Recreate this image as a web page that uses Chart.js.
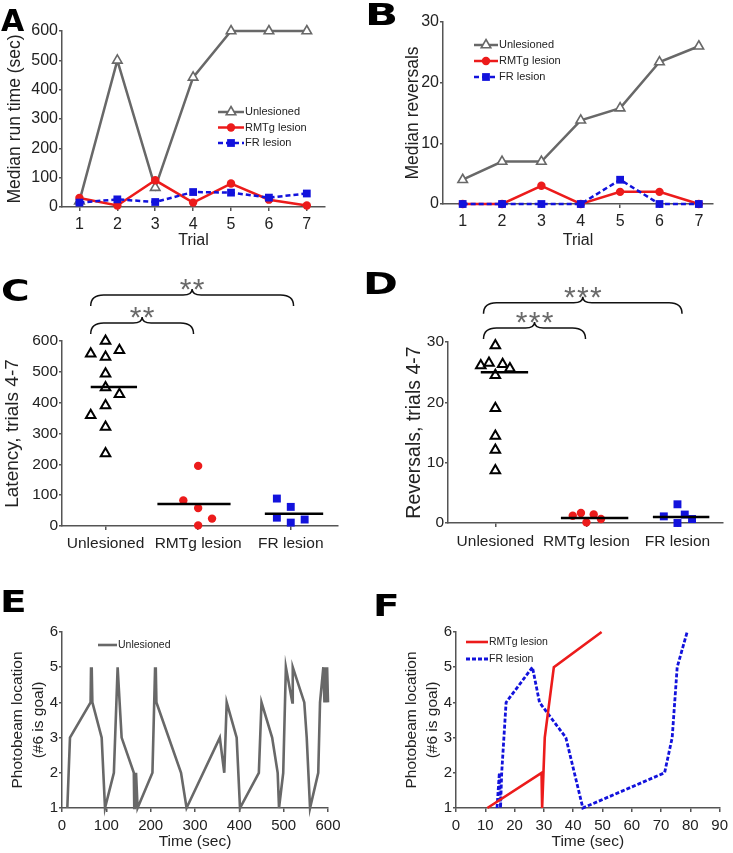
<!DOCTYPE html>
<html>
<head>
<meta charset="utf-8">
<script src="https://cdn.jsdelivr.net/npm/chart.js@4.4.1/dist/chart.umd.min.js"></script>
<style>
  body { margin: 0; background: #fff; }
  #page { position: relative; width: 733px; height: 853px; overflow: hidden; }
  canvas { position: absolute; }
  .tag { position: absolute; font: bold 30px "DejaVu Sans", sans-serif; line-height: 30px; transform-origin: 0 0; color: #000; }
</style>
</head>
<body>
<div id="page">
  <canvas id="chartA" width="366" height="250" style="left:0;top:0"></canvas>
  <canvas id="chartB" width="367" height="250" style="left:366px;top:0"></canvas>
  <canvas id="chartC" width="366" height="300" style="left:0;top:255px"></canvas>
  <canvas id="chartD" width="367" height="300" style="left:366px;top:255px"></canvas>
  <canvas id="chartE" width="366" height="263" style="left:0;top:590px"></canvas>
  <canvas id="chartF" width="367" height="263" style="left:366px;top:590px"></canvas>
  <div class="tag" style="left:1px;top:6px">A</div>
  <div class="tag" style="left:365px;top:0px;transform:scaleX(1.45)">B</div>
  <div class="tag" style="left:1px;top:276px;transform:scaleX(1.3)">C</div>
  <div class="tag" style="left:363px;top:269px;transform:scaleX(1.4)">D</div>
  <div class="tag" style="left:0px;top:587px;transform:scaleX(1.3)">E</div>
  <div class="tag" style="left:373px;top:591px;transform:scaleX(1.3)">F</div>
</div>
<script>
// ---- A / B: medians per trial ----
const trials = [1, 2, 3, 4, 5, 6, 7];
const runTicks = [0, 100, 200, 300, 400, 500, 600];
const runUnlesioned = [20, 500, 66, 442, 600, 600, 600];
const runRMTg = [31, 5, 91, 15, 80, 25, 5];
const runFR = [15, 26, 17, 51, 49, 32, 46];

const revTicks = [0, 10, 20, 30];
const revUnlesioned = [4, 7, 7, 13.8, 15.8, 23.4, 26];
const revRMTg = [0, 0, 3, 0, 2, 2, 0];
const revFR = [0, 0, 0, 0, 4, 0, 0];

// ---- C / D: individual animals, trials 4-7 ----
const groups = ['Unlesioned', 'RMTg lesion', 'FR lesion'];
const latUnlesioned = [600, 559, 570, 548, 494, 449, 427, 391, 359, 321, 235];
const latUnlesionedOff = [0, -0.16, 0.15, 0, 0, 0, 0.15, 0, -0.16, 0, 0];
const latRMTg = [195, 83, 58, 24, 2];
const latRMTgOff = [0, -0.16, 0, 0.15, 0];
const latFR = [89, 62, 27, 21, 11];
const latFROff = [-0.15, 0, -0.15, 0.15, 0];
const latMedians = [451, 71, 40];
const latMedianSpan = [[-0.16, 0.34], [-0.44, 0.35], [-0.28, 0.35]];

const totUnlesioned = [29.4, 26.1, 26.5, 26.3, 25.6, 24.5, 19, 14.4, 12.1, 8.7];
const totUnlesionedOff = [0, -0.16, -0.07, 0.08, 0.16, 0, 0, 0, 0, 0];
const totRMTg = [1.2, 1.65, 0.1, 1.4, 0.66];
const totRMTgOff = [-0.15, -0.06, 0, 0.08, 0.16];
const totFR = [1.1, 3.1, 1.4, 0.0, 0.66];
const totFROff = [-0.15, 0, 0.08, 0, 0.16];
const totMedians = [25, 0.83, 1.0];
const totMedianSpan = [[-0.16, 0.36], [-0.28, 0.46], [-0.27, 0.35]];

// ---- E / F: example traces ----
const locTicks = [1, 2, 3, 4, 5, 6];
const eTimeTicks = [0, 100, 200, 300, 400, 500, 600];
const eTime = [12, 18, 64.5, 65.5, 66.5, 67.5, 68.5, 89.5, 97, 117, 125.5, 134.5, 162, 163, 164, 166, 167, 170.5,
  204, 210, 211, 212, 213, 268.5, 281, 356, 366, 371.5, 394, 401.5, 444, 450, 474, 486.5, 489.5,
  499, 505, 519.5, 520.5, 546.5, 552, 559.5, 578, 582, 589.5, 592, 594, 596, 598, 600];
const eLoc = [1, 3, 4, 5, 4, 5, 4, 3, 1, 2, 5, 3, 2, 1, 2, 1, 2, 1,
  2, 5, 4, 5, 4, 2, 1, 3, 2, 4, 3, 1, 2, 4, 3, 2, 1,
  2, 5, 4, 5, 4, 3, 1, 2, 4, 5, 4, 5, 4, 5, 4];
const fTimeTicks = [0, 10, 20, 30, 40, 50, 60, 70, 80, 90];
const fRMTgTime = [10.7, 29.2, 29.4, 30.3, 33.4, 49.7];
const fRMTgLoc = [1, 2, 1, 3, 5, 6];
const fFRTime = [14, 14.8, 15.2, 15.6, 17.1, 26.1, 28.5, 37.5, 43.3, 71.2, 73.8, 75.5, 78.9];
const fFRLoc = [1, 2, 1, 2, 4, 5, 4, 3, 1, 2, 3, 5, 6];

const GRAY = '#686868';
const RED = '#ec1b1b';
const BLUE = '#1212dc';
const AXIS = '#555555';
const INK = '#222222';
const FONT = '"Liberation Sans", Arial, sans-serif';

function drawMarker(ctx, ds, x, y) {
  const r = ds.pointRadius;
  ctx.fillStyle = ds.pointBackgroundColor;
  ctx.strokeStyle = ds.pointBorderColor;
  ctx.lineWidth = ds.pointBorderWidth;
  ctx.beginPath();
  if (ds.pointStyle === 'triangle') {
    ctx.moveTo(x, y - r);
    ctx.lineTo(x + r * 0.866, y + r / 2);
    ctx.lineTo(x - r * 0.866, y + r / 2);
    ctx.closePath();
  } else if (ds.pointStyle === 'rect') {
    const s = r * Math.SQRT1_2;
    ctx.rect(x - s, y - s, 2 * s, 2 * s);
  } else {
    ctx.arc(x, y, r, 0, Math.PI * 2);
  }
  ctx.fill();
  if (ds.pointBorderWidth) ctx.stroke();
}

// legend: short line sample (with marker in the middle) then the label
const lineLegend = {
  id: 'lineLegend',
  afterDraw(chart, args, o) {
    if (!o.items) return;
    const ctx = chart.ctx;
    ctx.save();
    o.items.forEach((idx, i) => {
      const ds = chart.data.datasets[idx];
      const y = o.y + i * o.row;
      ctx.strokeStyle = ds.borderColor;
      ctx.lineWidth = ds.borderWidth;
      ctx.setLineDash(ds.borderDash || []);
      ctx.beginPath();
      ctx.moveTo(o.x, y);
      ctx.lineTo(o.x + o.len, y);
      ctx.stroke();
      ctx.setLineDash([]);
      if (ds.pointRadius) drawMarker(ctx, ds, o.x + o.len / 2, y);
      ctx.fillStyle = INK;
      ctx.font = o.size + 'px ' + FONT;
      ctx.textBaseline = 'middle';
      ctx.fillText(ds.label, o.x + o.len + 1, y);
    });
    ctx.restore();
  }
};

// curly significance brackets with stars above the tip
const braces = {
  id: 'braces',
  afterDraw(chart, args, o) {
    if (!o.items) return;
    const {ctx, scales: {x, y}} = chart;
    ctx.save();
    o.items.forEach(b => {
      const x1 = x.getPixelForValue(b.from), x2 = x.getPixelForValue(b.to);
      const yy = y.getPixelForValue(b.at), xm = (x1 + x2) / 2;
      ctx.strokeStyle = '#111';
      ctx.lineWidth = 1.5;
      ctx.beginPath();
      ctx.moveTo(x1, yy + 11);
      ctx.quadraticCurveTo(x1, yy, x1 + 13, yy);
      ctx.lineTo(xm - 9, yy);
      ctx.quadraticCurveTo(xm, yy, xm, yy - 6);
      ctx.quadraticCurveTo(xm, yy, xm + 9, yy);
      ctx.lineTo(x2 - 13, yy);
      ctx.quadraticCurveTo(x2, yy, x2, yy + 11);
      ctx.stroke();
      ctx.fillStyle = '#6a6a6a';
      ctx.font = '30px ' + FONT;
      ctx.textAlign = 'center';
      ctx.textBaseline = 'alphabetic';
      const n = b.stars.length;
      for (let i = 0; i < n; i++) {
        ctx.fillText(b.stars[i], xm + (i - (n - 1) / 2) * 13, yy - 13 + 17);
      }
    });
    ctx.restore();
  }
};

Chart.register(lineLegend, braces);

function scale(o) {
  const s = {
    type: 'linear',
    min: o.min,
    max: o.max,
    afterBuildTicks: sc => { sc.ticks = o.ticks.map(v => ({value: v})); },
    afterFit: sc => { if (sc.isHorizontal()) sc.height = o.box; else sc.width = o.box; },
    grid: {display: true, drawOnChartArea: false, drawTicks: true, tickLength: o.tickLen || 4, color: AXIS, lineWidth: 1.5},
    border: {display: true, color: AXIS, width: 1.5},
    ticks: {color: INK, font: {family: FONT, size: o.size}, padding: o.tickPad, autoSkip: false, maxRotation: 0},
    title: {display: false}
  };
  if (o.labels) s.ticks.callback = v => o.labels[v - 1];
  if (o.title) {
    s.title = {display: true, text: o.title, color: INK,
      font: {family: FONT, size: o.titleSize, lineHeight: o.lineHeight || 1.2},
      padding: {top: o.titlePad || 0, bottom: o.titlePad || 0}};
  }
  return s;
}

function options(o) {
  return {
    responsive: false,
    animation: false,
    events: [],
    layout: {padding: o.pad},
    plugins: {
      legend: {display: false},
      tooltip: {enabled: false},
      lineLegend: o.legend || {},
      braces: o.braces || {}
    },
    scales: {x: scale(o.x), y: scale(o.y)}
  };
}

const trendStyle = {
  unl: {borderColor: GRAY, borderWidth: 2.5, pointStyle: 'triangle', pointRadius: 5.5, pointBackgroundColor: '#fff', pointBorderColor: GRAY, pointBorderWidth: 1.6, order: 3},
  rmtg: {borderColor: RED, borderWidth: 2.5, pointStyle: 'circle', pointRadius: 4.2, pointBackgroundColor: RED, pointBorderColor: RED, pointBorderWidth: 0, order: 2},
  fr: {borderColor: BLUE, borderWidth: 2.5, borderDash: [5, 3], pointStyle: 'rect', pointRadius: 5.5, pointBackgroundColor: BLUE, pointBorderColor: BLUE, pointBorderWidth: 0, order: 1}
};

function series(label, xs, ys, st) {
  return Object.assign({label, showLine: true, clip: false, data: xs.map((x, i) => ({x, y: ys[i]}))}, st);
}

const dotStyle = {
  unl: {pointStyle: 'triangle', pointRadius: 5.5, pointBackgroundColor: '#fff', pointBorderColor: '#000', pointBorderWidth: 2},
  rmtg: {pointStyle: 'circle', pointRadius: 4.2, pointBackgroundColor: RED, pointBorderColor: RED, pointBorderWidth: 0},
  fr: {pointStyle: 'rect', pointRadius: 5.6, pointBackgroundColor: BLUE, pointBorderColor: BLUE, pointBorderWidth: 0}
};

function dots(vals, offs, cat, st) {
  return Object.assign({clip: false, data: vals.map((v, i) => ({x: cat + offs[i], y: v}))}, st);
}

function medianLine(val, span, cat) {
  return {showLine: true, clip: false, borderColor: '#000', borderWidth: 2.5, pointRadius: 0,
    data: [{x: cat + span[0], y: val}, {x: cat + span[1], y: val}]};
}

// A
new Chart('chartA', {
  type: 'scatter',
  data: {datasets: [
    series('Unlesioned', trials, runUnlesioned, trendStyle.unl),
    series('RMTg lesion', trials, runRMTg, trendStyle.rmtg),
    series('FR lesion', trials, runFR, trendStyle.fr)
  ]},
  options: options({
    pad: {left: 0, top: 31, right: 41, bottom: 0},
    x: {min: 0.54, max: 7.48, ticks: trials, box: 43, size: 16, tickPad: 4, title: 'Trial', titleSize: 16},
    y: {min: 0, max: 600, ticks: runTicks, box: 62, size: 16, tickPad: 1, tickLen: 3, title: 'Median run time (sec)', titleSize: 17.5, titlePad: 5},
    legend: {x: 218, y: 112, row: 15.5, len: 26, size: 11, items: [0, 1, 2]}
  })
});

// B
new Chart('chartB', {
  type: 'scatter',
  data: {datasets: [
    series('Unlesioned', trials, revUnlesioned, trendStyle.unl),
    series('RMTg lesion', trials, revRMTg, trendStyle.rmtg),
    series('FR lesion', trials, revFR, trendStyle.fr)
  ]},
  options: options({
    pad: {left: 32, top: 22, right: 20, bottom: 0},
    x: {min: 0.5, max: 7.36, ticks: trials, box: 46, size: 16, tickPad: 4, title: 'Trial', titleSize: 16},
    y: {min: 0, max: 30, ticks: revTicks, box: 45, size: 16, tickPad: 1, tickLen: 3, title: 'Median reversals', titleSize: 17.5, titlePad: 5},
    legend: {x: 108, y: 45, row: 16, len: 24, size: 11, items: [0, 1, 2]}
  })
});

// C
new Chart('chartC', {
  type: 'scatter',
  data: {datasets: [
    medianLine(latMedians[0], latMedianSpan[0], 1),
    medianLine(latMedians[1], latMedianSpan[1], 2),
    medianLine(latMedians[2], latMedianSpan[2], 3),
    dots(latUnlesioned, latUnlesionedOff, 1, dotStyle.unl),
    dots(latRMTg, latRMTgOff, 2, dotStyle.rmtg),
    dots(latFR, latFROff, 3, dotStyle.fr)
  ]},
  options: options({
    pad: {left: 0, top: 86, right: 28, bottom: 0},
    x: {min: 0.53, max: 3.51, ticks: [1, 2, 3], labels: groups, box: 29, size: 15.5, tickPad: 4},
    y: {min: 0, max: 600, ticks: runTicks, box: 62, size: 15.5, tickPad: 1, tickLen: 3, title: 'Latency, trials 4-7', titleSize: 19, titlePad: 1},
    braces: {items: [
      {from: 0.84, to: 3.03, at: 749, stars: '**'},
      {from: 0.84, to: 1.95, at: 658, stars: '**'}
    ]}
  })
});

// D
new Chart('chartD', {
  type: 'scatter',
  data: {datasets: [
    medianLine(totMedians[0], totMedianSpan[0], 1),
    medianLine(totMedians[1], totMedianSpan[1], 2),
    medianLine(totMedians[2], totMedianSpan[2], 3),
    dots(totUnlesioned, totUnlesionedOff, 1, dotStyle.unl),
    dots(totRMTg, totRMTgOff, 2, dotStyle.rmtg),
    dots(totFR, totFROff, 3, dotStyle.fr)
  ]},
  options: options({
    pad: {left: 32, top: 87, right: 10, bottom: 0},
    x: {min: 0.48, max: 3.5, ticks: [1, 2, 3], labels: groups, box: 32, size: 15.5, tickPad: 5},
    y: {min: 0, max: 30, ticks: revTicks, box: 50, size: 15.5, tickPad: 1, tickLen: 3, title: 'Reversals, trials 4-7', titleSize: 19.5, titlePad: 5},
    braces: {items: [
      {from: 0.87, to: 3.05, at: 36.5, stars: '***'},
      {from: 0.87, to: 1.99, at: 32.3, stars: '***'}
    ]}
  })
});

// E
new Chart('chartE', {
  type: 'scatter',
  data: {datasets: [
    series('Unlesioned', eTime, eLoc, {borderColor: GRAY, borderWidth: 2.6, pointRadius: 0})
  ]},
  options: options({
    pad: {left: 0, top: 42, right: 38, bottom: 0},
    x: {min: 0, max: 600, ticks: eTimeTicks, box: 45, size: 15, tickPad: 5, title: 'Time (sec)', titleSize: 15.5, titlePad: 2},
    y: {min: 1, max: 6, ticks: locTicks, box: 62, size: 15, tickPad: 1, tickLen: 3, title: ['Photobeam location', '(#6 is goal)'], titleSize: 15.5, lineHeight: 1.3, titlePad: 8},
    legend: {x: 98, y: 55, row: 17, len: 19, size: 10.5, items: [0]}
  })
});

// F
new Chart('chartF', {
  type: 'scatter',
  data: {datasets: [
    series('RMTg lesion', fRMTgTime, fRMTgLoc, {borderColor: RED, borderWidth: 2.6, pointRadius: 0, order: 1}),
    series('FR lesion', fFRTime, fFRLoc, {borderColor: BLUE, borderWidth: 2.8, borderDash: [4, 2], pointRadius: 0, order: 2})
  ]},
  options: options({
    pad: {left: 30, top: 42, right: 10, bottom: 0},
    x: {min: 0, max: 90, ticks: fTimeTicks, box: 45, size: 15, tickPad: 5, title: 'Time (sec)', titleSize: 15.5, titlePad: 2},
    y: {min: 1, max: 6, ticks: locTicks, box: 60, size: 15, tickPad: 1, tickLen: 3, title: ['Photobeam location', '(#6 is goal)'], titleSize: 15.5, lineHeight: 1.3, titlePad: 6},
    legend: {x: 100, y: 52, row: 17, len: 22, size: 10.5, items: [0, 1]}
  })
});
</script>
</body>
</html>
